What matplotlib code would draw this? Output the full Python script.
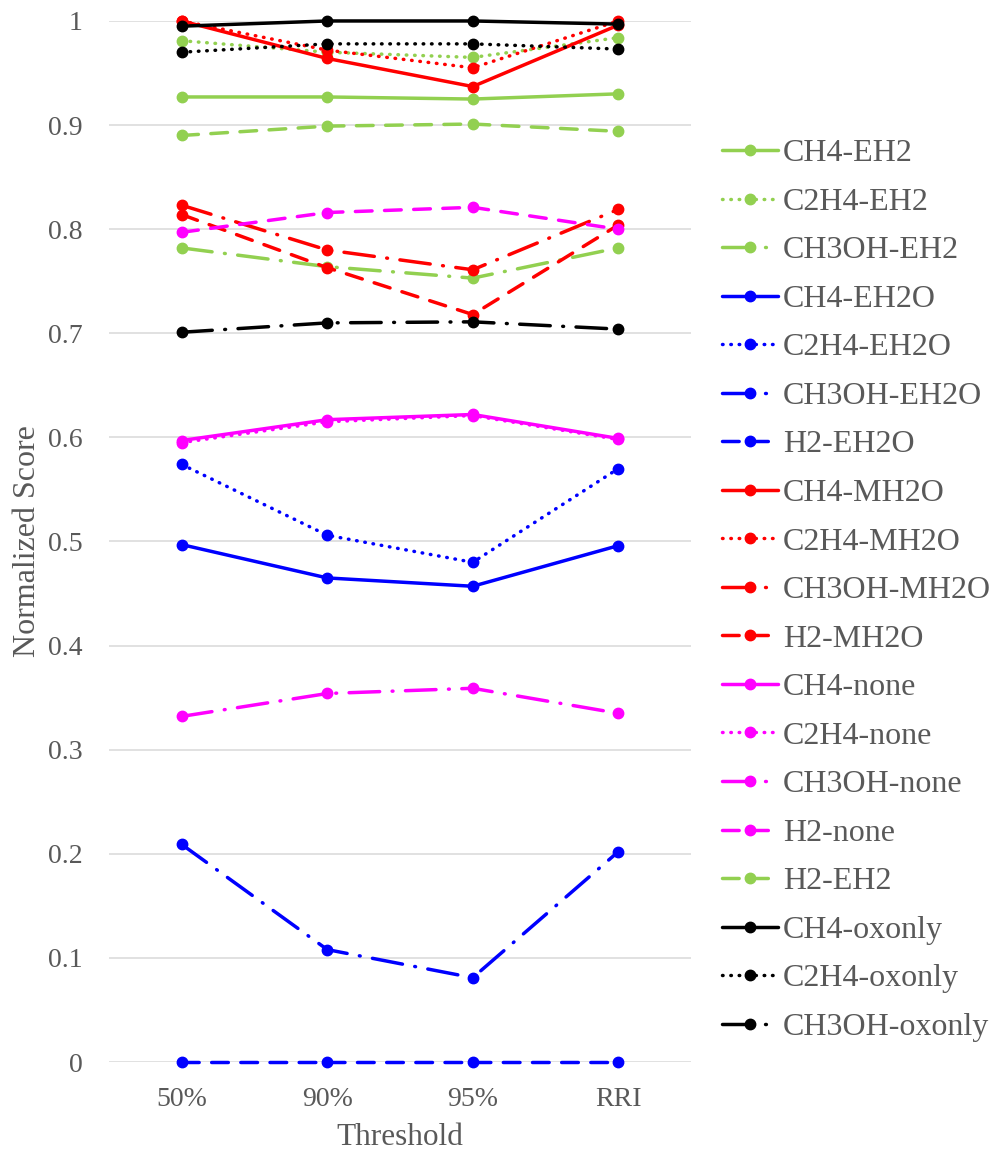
import matplotlib

matplotlib.use("Agg")
import matplotlib.pyplot as plt

# x categories
thresholds = ["50%", "90%", "95%", "RRI"]

# normalized scores per series
ch4_eh2 = [0.927, 0.927, 0.925, 0.930]
c2h4_eh2 = [0.981, 0.970, 0.965, 0.984]
ch3oh_eh2 = [0.782, 0.764, 0.753, 0.782]
ch4_eh2o = [0.497, 0.465, 0.457, 0.496]
c2h4_eh2o = [0.574, 0.506, 0.480, 0.570]
ch3oh_eh2o = [0.209, 0.108, 0.081, 0.202]
h2_eh2o = [0.0, 0.0, 0.0, 0.0]
ch4_mh2o = [1.000, 0.964, 0.937, 0.996]
c2h4_mh2o = [1.000, 0.972, 0.955, 1.000]
ch3oh_mh2o = [0.823, 0.780, 0.761, 0.819]
h2_mh2o = [0.814, 0.763, 0.718, 0.804]
ch4_none = [0.597, 0.617, 0.622, 0.599]
c2h4_none = [0.595, 0.615, 0.621, 0.598]
ch3oh_none = [0.332, 0.354, 0.359, 0.335]
h2_none = [0.797, 0.816, 0.821, 0.800]
h2_eh2 = [0.890, 0.899, 0.901, 0.894]
ch4_oxonly = [0.995, 1.000, 1.000, 0.997]
c2h4_oxonly = [0.970, 0.978, 0.978, 0.973]
ch3oh_oxonly = [0.701, 0.710, 0.711, 0.704]

GREEN = "#92D050"
BLUE = "#0000FF"
RED = "#FF0000"
MAGENTA = "#FF00FF"
BLACK = "#000000"
TEXT = "#595959"

SOLID = "-"
DOT = (0, (0.4, 5.6))
DASH = (0, (12, 9))
DASHDOT = (0, (22, 9, 0.6, 9))

series = [
    ("CH4-EH2", ch4_eh2, GREEN, SOLID),
    ("C2H4-EH2", c2h4_eh2, GREEN, DOT),
    ("CH3OH-EH2", ch3oh_eh2, GREEN, DASHDOT),
    ("CH4-EH2O", ch4_eh2o, BLUE, SOLID),
    ("C2H4-EH2O", c2h4_eh2o, BLUE, DOT),
    ("CH3OH-EH2O", ch3oh_eh2o, BLUE, DASHDOT),
    ("H2-EH2O", h2_eh2o, BLUE, DASH),
    ("CH4-MH2O", ch4_mh2o, RED, SOLID),
    ("C2H4-MH2O", c2h4_mh2o, RED, DOT),
    ("CH3OH-MH2O", ch3oh_mh2o, RED, DASHDOT),
    ("H2-MH2O", h2_mh2o, RED, DASH),
    ("CH4-none", ch4_none, MAGENTA, SOLID),
    ("C2H4-none", c2h4_none, MAGENTA, DOT),
    ("CH3OH-none", ch3oh_none, MAGENTA, DASHDOT),
    ("H2-none", h2_none, MAGENTA, DASH),
    ("H2-EH2", h2_eh2, GREEN, DASH),
    ("CH4-oxonly", ch4_oxonly, BLACK, SOLID),
    ("C2H4-oxonly", c2h4_oxonly, BLACK, DOT),
    ("CH3OH-oxonly", ch3oh_oxonly, BLACK, DASHDOT),
]

plt.rcParams["font.family"] = ["Liberation Serif", "DejaVu Serif"]
plt.rcParams["lines.scale_dashes"] = False

fig = plt.figure(figsize=(10, 11.52), dpi=100)
ax = fig.add_axes([0.109, 0.0781, 0.582, 0.9037])

x = list(range(len(thresholds)))
for label, values, color, style in series:
    ax.plot(
        x, values,
        color=color, linestyle=style, linewidth=2.5,
        dash_capstyle="round", solid_capstyle="round",
        marker="o", markersize=7.5, label=label, clip_on=False,
    )

ax.set_xlim(-0.5, len(thresholds) - 0.5)
ax.set_ylim(0, 1)
ax.set_xticks(x)
ax.set_xticklabels(thresholds)
yticks = [i / 10 for i in range(11)]
ax.set_yticks(yticks)
ax.set_yticklabels(["0" if v == 0 else "1" if v == 1 else f"{v:.1f}" for v in yticks])
ax.tick_params(axis="both", length=0, labelsize=20, labelcolor=TEXT)
ax.tick_params(axis="y", pad=19)
ax.tick_params(axis="x", pad=18)
ax.grid(axis="y", color="#D9D9D9", linewidth=1.1)
ax.set_axisbelow(True)
for spine in ax.spines.values():
    spine.set_visible(False)

ax.set_xlabel("Threshold", fontsize=22.5, color=TEXT, labelpad=8)
ax.set_ylabel("Normalized Score", fontsize=23, color=TEXT, labelpad=4)

fig.legend(
    loc="center left", bbox_to_anchor=(0.722, 0.4875), bbox_transform=fig.transFigure,
    frameon=False, fontsize=23, labelcolor=TEXT, labelspacing=0.6,
    handlelength=1.75, handletextpad=0.15, borderpad=0, borderaxespad=0,
)

fig.savefig("out.png", dpi=100)
